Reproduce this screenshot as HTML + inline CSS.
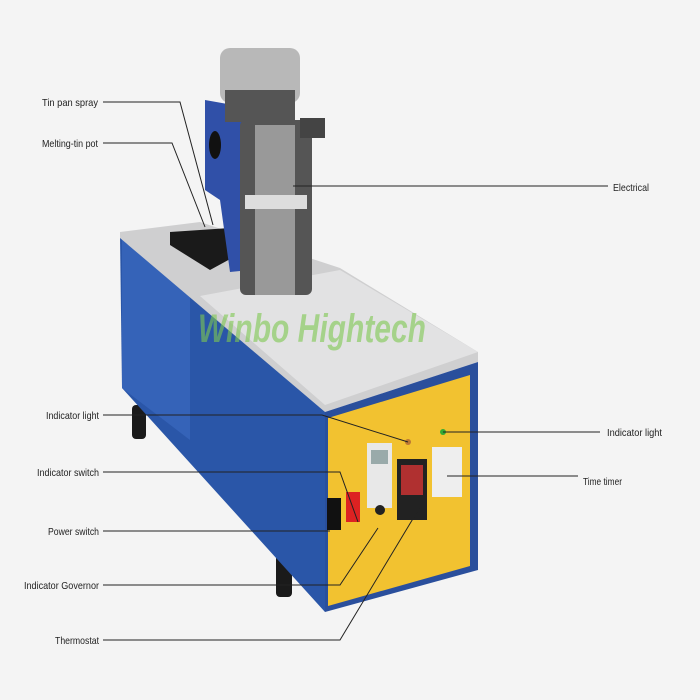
<!DOCTYPE html>
<html><head><style>
body{margin:0;background:#f4f4f4;}
svg{display:block}
text{font-family:"Liberation Sans",sans-serif;font-size:10.5px;fill:#222}
</style></head><body>
<svg width="700" height="700" viewBox="0 0 700 700">
<rect width="700" height="700" fill="#f4f4f4"/>
<!-- legs -->
<rect x="132" y="405" width="14" height="34" rx="4" fill="#1a1a1a"/>
<rect x="276" y="555" width="16" height="42" rx="4" fill="#1a1a1a"/>
<!-- blue body left -->
<polygon points="120,236 325,408 325,612 122,388" fill="#2a56a8"/>
<polygon points="122,236 190,292 190,440 122,388" fill="#3563b8"/>
<!-- top stainless -->
<polygon points="120,232 200,222 340,268 478,352 478,362 325,412 120,238" fill="#cfcfd0"/>
<polygon points="200,296 340,270 478,352 325,405" fill="#e2e2e3"/>
<polygon points="170,232 230,228 232,258 210,270 170,245" fill="#1a1a1a"/>
<!-- front yellow panel -->
<polygon points="325,412 478,362 478,570 325,612" fill="#2a4f9c"/>
<polygon points="328,418 470,375 470,566 328,606" fill="#f2c230"/>
<!-- controls -->
<rect x="367" y="443" width="25" height="65" fill="#e8e8e8"/>
<rect x="371" y="450" width="17" height="14" fill="#9aa"/>
<circle cx="380" cy="510" r="5" fill="#222"/>
<rect x="397" y="459" width="30" height="61" fill="#222"/>
<rect x="401" y="465" width="22" height="30" fill="#b03030"/>
<rect x="432" y="447" width="30" height="50" fill="#eee"/>
<rect x="346" y="492" width="14" height="30" fill="#d22"/>
<rect x="327" y="498" width="14" height="32" fill="#111"/>
<circle cx="408" cy="442" r="3" fill="#b73"/>
<circle cx="443" cy="432" r="3" fill="#3a3"/>
<!-- tower -->
<polygon points="205,100 250,108 250,270 230,272 220,200 205,190" fill="#3050a8"/>
<ellipse cx="215" cy="145" rx="6" ry="14" fill="#111"/>
<rect x="240" y="120" width="72" height="175" rx="6" fill="#555"/>
<rect x="255" y="125" width="40" height="170" fill="#999"/>
<rect x="300" y="118" width="25" height="20" fill="#444"/>
<rect x="220" y="48" width="80" height="55" rx="10" fill="#b8b8b8"/>
<rect x="225" y="90" width="70" height="32" fill="#555"/>
<rect x="245" y="195" width="62" height="14" fill="#ddd"/>
<!-- watermark -->
<text x="198" y="342" textLength="228" lengthAdjust="spacingAndGlyphs" style="font-size:40px;font-weight:bold;fill:#7ec850;opacity:0.6;font-style:italic">Winbo Hightech</text>
<!-- leader lines -->
<g stroke="#222" stroke-width="1" fill="none">
<polyline points="103,102 180,102 213,225"/>
<polyline points="103,143 172,143 205,227"/>
<polyline points="293,186 608,186"/>
<polyline points="103,415 322,415 408,442"/>
<polyline points="103,472 340,472 358,522"/>
<polyline points="103,531 330,531"/>
<polyline points="103,585 340,585 378,528"/>
<polyline points="103,640 340,640 420,507"/>
<polyline points="443,432 600,432"/>
<polyline points="447,476 578,476"/>
</g>
<g lengthAdjust="spacingAndGlyphs">
<text x="42" y="106" textLength="56" lengthAdjust="spacingAndGlyphs">Tin pan spray</text>
<text x="42" y="147" textLength="56" lengthAdjust="spacingAndGlyphs">Melting-tin pot</text>
<text x="613" y="191" textLength="36" lengthAdjust="spacingAndGlyphs">Electrical</text>
<text x="46" y="419" textLength="53" lengthAdjust="spacingAndGlyphs">Indicator light</text>
<text x="37" y="476" textLength="62" lengthAdjust="spacingAndGlyphs">Indicator switch</text>
<text x="48" y="535" textLength="51" lengthAdjust="spacingAndGlyphs">Power switch</text>
<text x="24" y="589" textLength="75" lengthAdjust="spacingAndGlyphs">Indicator Governor</text>
<text x="55" y="644" textLength="44" lengthAdjust="spacingAndGlyphs">Thermostat</text>
<text x="607" y="436" textLength="55" lengthAdjust="spacingAndGlyphs">Indicator light</text>
<text x="583" y="485" textLength="39" lengthAdjust="spacingAndGlyphs">Time timer</text>
</g>
</svg>
</body></html>
